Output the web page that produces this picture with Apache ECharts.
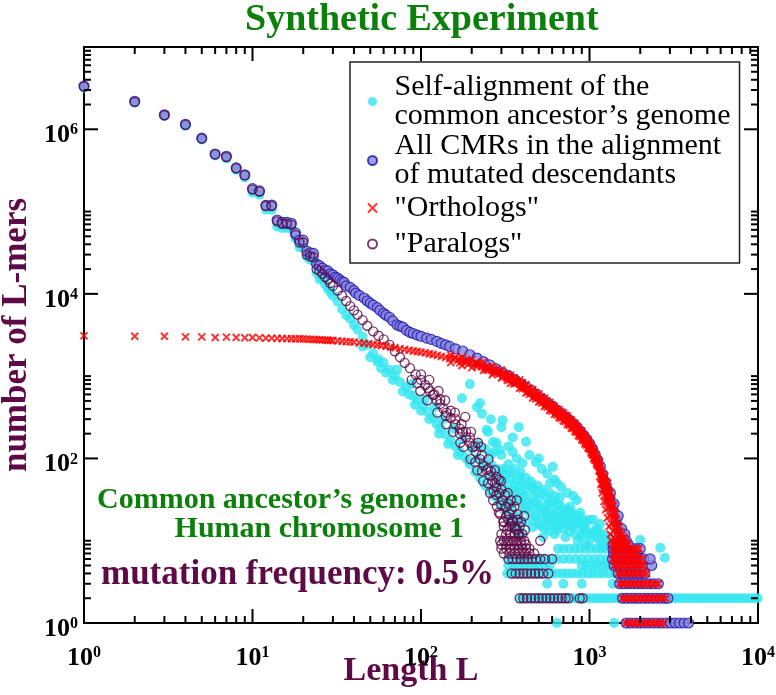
<!DOCTYPE html>
<html>
<head>
<meta charset="utf-8">
<script src="https://cdn.jsdelivr.net/npm/echarts@6/dist/echarts.min.js"></script>
<style>html,body{margin:0;padding:0;background:#fff}#c{width:776px;height:695px}</style>
</head>
<body>
<div id="c"></div>
<script>
// ---------- labels / ticks ----------
const titleText = 'Synthetic Experiment';
const xName = 'Length L';
const yName = 'number of L-mers';
const xLabelExps = [0, 1, 2, 3, 4];
const yLabelExps = [0, 2, 4, 6];
const xMinorMult = [2, 3, 4, 5, 6, 7, 8, 9];
const yMinorMult = [2, 3, 4, 5, 6, 7, 8, 9, 10];
const nameSelf = 'Self-alignment of the\ncommon ancestor\u2019s genome';
const nameCmr = 'All CMRs in the alignment\nof mutated descendants';
const nameOrtho = '"Orthologs"';
const namePara = '"Paralogs"';
const note1 = 'Common ancestor\u2019s genome:';
const note2 = 'Human chromosome 1';
const note3 = 'mutation frequency: 0.5%';

// ---------- data: [length L, number of L-mers] ----------
const selfPts = [
[1,3.2e6],[2,2.1e6],[3,1.45e6],[4,1.1e6],[5,7.5e5],[6,4.8e5],[7,4.4e5],[8,3.2e5],[9,2.6e5],[10,1.7e5],[11,1.6e5],[12,1.05e5],[13,1.05e5],[14,6.6e4],[15,6.3e4],[16,6.3e4],[17,6.2e4],[18,4.7e4],[19,3.7e4],[20,3.7e4],[21,2.8e4],[22,2.6e4],[23,2.5e4],[24,1.8e4],[25,1.5e4],[26,1.55e4],[27,1.3e4],[28,1.15e4],[29,1.05e4],[30,9500],
[32,8000],[34,6500],[36,5500],[38,5000],[40,4200],[42,3700],[45,3000],[48,2400],[52,1900],[56,1600],[60,1450],[65,1200],[70,1000],[75,850],[82,740],[90,580],[95,510],[103,440],[110,370],[118,310],[124,260],[130,235],[140,195],[150,165],[160,140],[170,120],[180,105],[195,85],[210,68],[225,57],[240,47],[256,40],[270,35],[290,29],[310,24],[330,20],[350,16],[370,13],
[45,2300],[50,1700],[55,1500],[58,1250],[62,1100],[68,900],[72,1200],[78,650],[85,600],[88,800],[92,450],[100,380],[105,520],[112,300],[120,420],[128,200],[135,300],[145,150],[155,230],[165,110],[175,170],[190,95],[200,130],[215,100],[230,78],[260,60],[280,45],[300,36],[320,30],[340,25],[360,19],[380,16],
[175,540],[195,800],[215,420],[224,470],[305,292],[250,210],[267,158],[293,127],[245,223],[280,155],[400,88],[386,60],[460,45],[605,79],[582,50],[640,50],[668,34],[840,31],[766,22],[1050,18],[960,13.5],[1155,12.4],[1210,8.4],[2000,10.2],[2630,8.2],[2800,6.2],
[350,29],[425,24],[510,26],[580,29],[668,27],[766,26],[880,22],[1000,18],[1155,16],[700,19.5],[560,18],[460,14.6],[640,13.5],[800,14.6],[910,12.4],[1110,11],[1270,10.2],[530,11],[400,12.4],[330,26],[380,20],[420,17],[480,20],[520,15],[600,15],[720,11],[850,10],[950,9],[430,30],[470,35],[390,38],[360,45],[300,50],[320,40],[410,25],[500,33],[550,22],[620,20],[680,16],[760,13],[1050,12],[1200,9],[1350,8.5],[1450,9],
[290,60],[310,55],[330,48],[350,40],[380,33],[400,28],[440,22],[470,18],[500,16],[540,14],[580,13],[620,12],[360,36],[420,40],[480,28],[540,24],[600,20],[660,18],[720,17],[780,19],[840,16],[900,15],[960,17],
[240,90],[260,85],[280,75],[300,70],[320,65],[340,58],[370,55],[400,50],[430,48],[470,42],[520,38],[560,33],[610,30],[650,28],[700,23],[750,20],[820,18],[870,17],[930,14],[980,12],[1080,13],[1150,10],[1300,9],
[270,120],[300,110],[330,85],[360,75],[390,68],[420,58],[450,52],[490,47],[530,42],[580,38],[620,35],[560,27],[600,24],[640,22],[700,21],[740,24],[790,22],[860,20],[920,18],[1100,14],[1200,12],[1300,11],
[310,75],[340,68],[380,45],[410,35],[450,28],[490,24],[530,20],[570,18],[610,17],[650,15],[700,14],[760,16],[820,12],[880,11],[1000,10],
[220,150],[240,130],[260,110],[330,140],[350,120],[370,100],[440,110],[480,90],[520,75],[560,65],[620,55],[680,45],[740,38],[800,35],[350,180],[300,240],[420,160],[500,100],[260,300],[230,350],[380,240]
];
const selfRowCounts = [1, 2, 3, 4, 5, 6, 8];
const selfRowLengths = [
[640,1400],
[390,410,430,450,480,500,530,560,590,620,650,690,730,770,810,860,910,960,1020,1080,1140,1200,1270,1340,1420,1500,1590,1680,1780,1880,1990,2100,2220,2350,2490,2630,2780,2940,3110,3290,3480,3680,3890,4110,4350,4600,4860,5140,5440,5750,6080,6430,6800,7190,7600,8040,8500,8990,9500,9950],
[560,700,900,1370],
[325,350,375,400,430,460,490,520,560,600,640,690,740,790,850,910,980,1050,1130,1210,1300,1400,1500],
[330,355,380,410,440,470,500,540,580,900,960,1030,1100,1180,1260,1350,1450],
[330,360,390,420,460,500,540,590,640,700,760,830,900,980,1070,1160,1270,1380,1500],
[650,700,760,820,880,950,1020,1100,1170,1240]
];

const cmrPts = [
[1,3.35e6],[2,2.19e6],[3,1.5e6],[4,1.15e6],[5,7.8e5],[6,5.0e5],[7,4.7e5],[8,3.4e5],[9,2.8e5],[10,1.9e5],[11,1.78e5],[12,1.19e5],[13,1.2e5],[14,7.9e4],[15,7.4e4],[16,7.4e4],[17,7.2e4],[18,5.5e4],[19,4.5e4],[20,4.5e4],[21,3.3e4],[22,3.15e4],[23,3.1e4],[24,2.3e4],[25,2.2e4],[26,2.05e4],[27,1.95e4],[28,1.9e4],[29,1.75e4],[30,1.7e4],
[31,1.6e4],[32,1.55e4],[33,1.48e4],[34,1.4e4],[35,1.38e4],[36,1.25e4],[38,1.2e4],[40,1.1e4],[41,1.02e4],[43,9600],[46,8900],[48,8200],[50,7700],[52,7300],[55,6800],[57,6300],[60,5800],[62,5500],[65,5200],[68,4700],[72,4200],[75,4050],[78,3950],[82,3600],[86,3400],[90,3300],[95,3160],[100,3050],[108,2900],[115,2800],[124,2650],[132,2500],[140,2400],[148,2300],[160,2150],[177,2020],[195,1820],[215,1660],[235,1500],[256,1370],[280,1230],[305,1100],
[330,1010],[360,910],[390,820],[420,740],[450,670],[480,605],[510,550],[540,505],[570,465],[600,430],[640,385],[680,350],[720,320],[760,290],[800,265],[840,240],[880,215],[920,192],[960,172],[1000,152],[1040,132],[1080,112],[1120,95],[1160,80],[1200,64],[1240,52],[1280,41],[1320,33],[1360,27],[1400,22],[1440,17],[1480,14],[1520,12],[1560,10.5],[1600,9.5],
[1250,45],[1330,38],[1400,28],[1480,20],[1550,14],[1620,12],[1650,10]
];
const cmrRowCounts = [1, 2, 3, 4, 5, 6, 7, 8, 9];
const cmrRowLengths = [
[1650,1750,1860,1980,2100,2230,2370,2520,2680,2850,3030,3220,3420,3640,3870],
[1570,1660,1760,1860,1970,2090,2210,2340,2480,2630,2790,2920],
[1510,1600,1700,1800,1910,2020,2140,2270,2400,2560],
[1480,1570,1670,1770,1880,2000,2130],
[1400,1500,1600,1700,1810,1930,2060,2340],
[1370,1460,1550,1650,1750,1860,1980,2100,2290],
[1390,1480,1580,1680,1790,1900],
[1380,1470,1570,1670,1780,1890,2000],
[1380,1460,1540,1620,1700]
];

const orthoPts = [
[1,3100],[2,3050],[3,3050],[4,3000],[5,3000],[6,2950],[7,2980],[8,2950],[9,2930],[10,2950],[11,2920],[12,2900],[13,2900],[14,2880],[15,2870],[16,2860],[17,2850],[18,2840],[19,2850],[20,2830],[21,2820],[22,2800],[23,2790],[24,2780],[25,2770],[26,2760],[27,2740],[28,2730],[29,2720],[30,2710],
[32,2680],[34,2650],[36,2630],[38,2610],[40,2590],[43,2550],[46,2510],[49,2470],[52,2430],[55,2400],[58,2360],[62,2310],[66,2260],[70,2210],[75,2160],[80,2110],[85,2060],[90,2020],[95,1990],[100,1960],[106,1920],[112,1870],[118,1830],[125,1790],[132,1740],[140,1690],[148,1640],[156,1600],[165,1560],[175,1510],[185,1470],[195,1440],[205,1410],[215,1370],[228,1310],[240,1260],[252,1220],[265,1170],[280,1110],[295,1070],[310,1020],[325,970],[340,920],[355,880],[370,840],[385,800],[400,760],[420,700],[440,650],[460,610],[480,575],[500,545],[520,510],[540,480],[560,455],[580,430],[600,410],[620,385],[640,365],[660,350],[680,335],[700,320],[720,305],[740,290],[760,275],[780,262],[800,250],[820,238],[840,226],[860,212],[880,200],[900,190],[920,178],[940,168],[960,158],[980,150],[1000,140],[1020,130],[1040,120],[1060,110],[1080,102],[1100,95],[1120,88],[1140,80],[1160,72],[1180,64],[1200,57],[1220,52],[1240,47],[1260,42],[1280,37],[1300,33],[1320,30],[1340,28],[1360,25],[1380,22],[1400,20],[1420,18],[1440,16],[1460,14.5],[1480,13],[1500,12],[1520,11],[1540,10.5],
[150,1820],[175,1690],[200,1600],[235,1480],[265,1310],[300,1190],[340,1030],[385,900],[420,785],[460,685],[500,610],[540,540],[580,480],[620,430],[660,392],[700,358],[740,325],[780,293],[820,266],[860,237],[900,213],[940,188],[980,168],[1020,146],[1060,123],[1100,106],[1140,90],
[150,1460],[175,1345],[200,1270],[235,1180],[265,1040],[300,950],[340,820],[385,712],[420,623],[460,543],[500,485],[540,427],[580,383],[620,343],[660,312],[700,285],[740,258],[780,233],[820,212],[860,189],[900,169],[940,150],[980,134],[1020,116],[1060,98],[1100,85],[1140,71],
[160,1700],[185,1560],[210,1450],[222,1400],[250,1280],[275,1180],[290,1130],[318,1040],[332,990],[348,940],[362,900],[378,850],[392,810],[410,745],[430,690],[450,640],[470,600],[490,560],[510,530],[530,500],[550,470],[570,445],[590,425],[610,400],[630,375],[650,360],[670,343],[690,328],[710,313],[730,298],[750,283],[770,270],[790,257],[810,245],[830,232],[850,220],[870,207],[890,196],[910,185],[930,173],[950,164],[970,154],[990,145],[1010,135],[1030,125],[1050,115],[1070,106],[1090,99],[1110,92],[1130,84],[1150,76],[1170,68],[1190,60],[1210,55],[1230,50],[1250,45],[1270,40],[1290,35],[1310,31],
[325,1060],[355,960],[400,830],[440,710],[480,630],[520,560],[560,500],[600,450],[640,400],[680,367],[720,335],[760,300],[800,272],[840,246],[880,218],[920,195],[960,172],[1000,153],[1040,131],[1080,112],[1120,96],
[325,890],[355,810],[400,700],[440,600],[480,530],[520,470],[560,420],[600,377],[640,336],[680,308],[720,280],[760,253],[800,230],[840,208],[880,184],[920,164],[960,145],[1000,129],[1040,110],[1080,94],[1120,81],
[170,1620],[190,1530],[215,1440],[245,1310],[270,1220],[305,1090],[335,990],[365,900],[395,820],[430,720],[470,630],[510,555],[550,495],[590,445],[630,395],[670,360],[710,330],[750,298],[790,272],[830,245],[870,220],[910,196],[950,174],[990,154],[1030,134],[1070,114],[1110,98],[1150,80],[1190,65],[1230,53],
[170,1450],[190,1380],[215,1300],[245,1190],[270,1100],[305,990],[335,900],[365,820],[395,740],[430,650],[470,570],[510,500],[550,445],[590,400],[630,355],[670,325],[710,297],[750,268],[790,244],[830,220],[870,197],[910,176],[950,156],[990,138],[1030,120],[1070,102],[1110,88],[1150,71],[1190,58],[1230,47],
[1180,50],[1250,52],[1200,42],[1290,45],[1230,36],[1320,38],[1260,30],[1350,32],[1290,25],[1380,27],[1320,20],[1420,22],[1350,16],[1450,18],[1380,13],[1500,15],[1400,11],[1560,12],[1430,10],[1580,10.5],[1600,11],[1620,10],
[1150,60],[1230,62],[1170,48],[1280,50],[1190,38],[1310,40],[1220,30],[1340,33],[1250,24],[1370,26],[1280,19],[1400,21],[1310,15],[1440,16],[1330,12],[1470,13],[1350,10],[1510,10],[1540,9.5],[1600,9],[1650,9.2],[1450,9.3]
];
const orthoRowCounts = [1, 2, 3, 4, 5, 6, 7, 8, 9];
const orthoRowLengths = [
[1650,1720,1790,1870,1950,2030,2120,2210,2310,2410,2520,2630,2750],
[1570,1630,1700,1770,1840,1920,2000,2090,2180,2270,2370,2480,2590,2700,2820],
[1510,1570,1630,1700,1770,1840,1920,2000,2080,2170,2260,2360,2460,2560],
[1480,1530,1590,1650,1710,1780,1850,1920,2000,2090,2180],
[1400,1450,1500,1560,1620,1680,1740,1810,1880,1950,2030,2100],
[1370,1420,1470,1520,1580,1640,1700,1760,1830,1900,1970,2050],
[1390,1450,1510,1570,1640,1710,1780,1860,1940],
[1380,1430,1480,1530,1580,1640,1700,1760,1820,1890,1960],
[1380,1440,1500,1560,1630,1700]
];

const paraPts = [
[1,3.3e6],[2,2.15e6],[3,1.48e6],[4,1.13e6],[5,7.7e5],[6,4.95e5],[7,4.6e5],[8,3.35e5],[9,2.75e5],[10,1.85e5],[11,1.75e5],[12,1.17e5],[13,1.17e5],[14,7.6e4],[15,7.1e4],[16,7.1e4],[17,6.9e4],[18,5.2e4],[19,4.2e4],[20,4.2e4],[21,3.0e4],[22,2.85e4],[23,2.8e4],[24,2.0e4],[25,1.9e4],[26,1.75e4],[27,1.6e4],[28,1.5e4],[29,1.35e4],[30,1.25e4],
[32,1.1e4],[34,9500],[36,8200],[38,7100],[40,6300],[42,5600],[45,4800],[48,4100],[52,3500],[56,3100],[60,2800],[65,2400],[70,2000],[75,1700],[80,1450],[86,1250],[93,1050],[100,900],[106,780],[113,660],[118,590],[124,510],[130,460],[136,400],[142,360],[150,310],[160,260],[170,230],[177,210],[185,180],[195,155],[203,138],[212,120],[224,98],[235,82],[245,72],[256,62],[266,53],[280,45],[292,38],[305,31],[320,26],[335,21],[350,17],[370,13.5],
[95,820],[100,1050],[110,720],[120,600],[130,520],[140,330],[150,380],[160,300],[170,200],[185,210],[195,180],[210,140],[230,110],[250,75],[260,70],[275,50],[290,55],[300,42],[315,36],[330,28],[345,24],[280,36],[300,27],[320,20],[340,16],[360,14],[380,12],[310,17],[290,22],[270,40],[250,50],[230,70],[210,90],
[183,320],[280,60],[410,20],[370,31],[510,10],
[300,12],[320,12],[340,12],[360,12],[380,12],[400,12],[310,15],[335,15],[360,15],[385,15],[330,18],[350,18],[375,18],
[112,900],[127,660],[139,510],[159,360],[174,260],[198,210],[218,155],[227,138],[251,98],[274,72],[298,53],[327,38],[342,31],[358,26],[375,21],[392,17],[414,13.5],
[88,900],[99,660],[109,510],[125,360],[141,260],[155,210],[171,155],[179,138],[197,98],[216,72],[234,53],[257,38],[268,31],[282,26],[295,21],[308,17],[325,13.5]
];
const paraRowCounts = [2, 4, 6, 7, 8, 9, 10];
const paraRowLengths = [
[385,405,425,450,475,500,525,555,585,615,650,685,720,750,875,910],
[345,365,385,405,425,450,475,500,530,570],
[330,350,370,390,410,430,455,480,510,545,600],
[310,335,360,385,410,440,470],
[300,320,340,360,380,400,420,440],
[300,320,345,370,395,420],
[295,310,325,340,355,370,390,410]
];

// ---------- build ----------
function withRows(pts, counts, rows) {
  const out = pts.slice();
  counts.forEach((n, i) => rows[i].forEach(L => out.push([L, n])));
  return out;
}
const X_MIN = 1, X_MAX = 1e4, Y_MIN = 1, Y_MAX = 1e7;
const tickData = [];
xLabelExps.forEach(e => { const v = Math.pow(10, e); tickData.push([v, Y_MIN, 0, -14], [v, Y_MAX, 0, 14]); });
for (let e = 0; e < 4; e++) xMinorMult.forEach(k => { const v = k * Math.pow(10, e); tickData.push([v, Y_MIN, 0, -7], [v, Y_MAX, 0, 7]); });
yLabelExps.forEach(e => { const v = Math.pow(10, e); tickData.push([X_MIN, v, 14, 0], [X_MAX, v, -14, 0]); });
yLabelExps.forEach(e => yMinorMult.forEach(k => { const v = k * Math.pow(10, e); if (v <= Y_MAX) tickData.push([X_MIN, v, 7, 0], [X_MAX, v, -7, 0]); }));

const serif = '"Liberation Serif", "Times New Roman", serif';
const GREEN = '#0b800b', MAROON = '#5e0a46', CYAN = '#33e6f0';
const supRich = {
  b: { fontFamily: serif, fontSize: 26, fontWeight: 'bold', color: '#000', lineHeight: 26, verticalAlign: 'bottom' },
  s: { fontFamily: serif, fontSize: 16, fontWeight: 'bold', color: '#000', lineHeight: 2, verticalAlign: 'top' }
};
function expLabel(list) {
  return function (v) {
    const e = Math.round(Math.log10(v));
    return list.indexOf(e) >= 0 ? '{b|10}{s|' + e + '}' : '';
  };
}

const chart = echarts.init(document.getElementById('c'));
chart.setOption({
  animation: false,
  backgroundColor: '#fff',
  title: {
    text: titleText, left: 245, top: 1, padding: 0,
    textStyle: { fontFamily: serif, fontSize: 38, fontWeight: 'bold', color: GREEN }
  },
  grid: { left: 84, right: 18, top: 47, bottom: 72, outerBoundsMode: 'none', containLabel: false,
          show: true, borderColor: '#000', borderWidth: 2, backgroundColor: 'transparent' },
  xAxis: {
    type: 'log', logBase: 10, min: X_MIN, max: X_MAX,
    axisLine: { show: false }, axisTick: { show: false }, splitLine: { show: false },
    axisLabel: { interval: 0, margin: 22, formatter: expLabel(xLabelExps), rich: supRich },
    name: xName, nameLocation: 'middle', nameGap: 31, nameMoveOverlap: false,
    nameTextStyle: { fontFamily: serif, fontSize: 34, fontWeight: 'bold', color: MAROON, padding: [0, 20, 0, 0] }
  },
  yAxis: {
    type: 'log', logBase: 10, min: Y_MIN, max: Y_MAX,
    axisLine: { show: false }, axisTick: { show: false }, splitLine: { show: false },
    axisLabel: { interval: 0, margin: 6, padding: [12, 0, 0, 0], formatter: expLabel(yLabelExps), rich: supRich },
    name: yName, nameLocation: 'middle', nameRotate: 90, nameGap: 50, nameMoveOverlap: false,
    nameTextStyle: { fontFamily: serif, fontSize: 35, fontWeight: 'bold', color: MAROON }
  },
  legend: {
    orient: 'vertical', left: 350, top: 62, padding: [10, 9, 1, 17],
    itemWidth: 34, itemHeight: 9, itemGap: 0, selectedMode: false,
    borderColor: '#222', borderWidth: 1.5, backgroundColor: '#fff',
    textStyle: { fontFamily: serif, fontSize: 30, color: '#000', lineHeight: 29 },
    data: [
      { name: nameSelf },
      { name: nameCmr },
      { name: nameOrtho, textStyle: { lineHeight: 36 } },
      { name: namePara, textStyle: { lineHeight: 36 } }
    ]
  },
  graphic: [
    { type: 'text', x: 468, y: 500, style: { text: note1, font: 'bold 30px ' + serif, fill: GREEN, textAlign: 'right', align: 'right', textVerticalAlign: 'middle', verticalAlign: 'middle' } },
    { type: 'text', x: 464, y: 529, style: { text: note2, font: 'bold 30px ' + serif, fill: GREEN, textAlign: 'right', align: 'right', textVerticalAlign: 'middle', verticalAlign: 'middle' } },
    { type: 'text', x: 101, y: 575, style: { text: note3, font: 'bold 35px ' + serif, fill: MAROON, textAlign: 'left', align: 'left', textVerticalAlign: 'middle', verticalAlign: 'middle' } }
  ],
  series: [
    { name: nameSelf, type: 'scatter', z: 2, symbol: 'circle', symbolSize: 10,
      itemStyle: { color: CYAN }, emphasis: { disabled: true },
      data: withRows(selfPts, selfRowCounts, selfRowLengths) },
    { name: nameCmr, type: 'scatter', z: 3, symbol: 'circle', symbolSize: 10,
      itemStyle: { color: '#8a84d8', borderColor: '#1a14b4', borderWidth: 1.2 }, emphasis: { disabled: true },
      data: withRows(cmrPts, cmrRowCounts, cmrRowLengths) },
    { name: nameOrtho, type: 'scatter', z: 5, symbol: 'path://M0,0L10,10M10,0L0,10', symbolSize: 7,
      itemStyle: { color: 'rgba(0,0,0,0)', borderColor: '#ff0000', borderWidth: 2 }, emphasis: { disabled: true },
      data: withRows(orthoPts, orthoRowCounts, orthoRowLengths) },
    { name: namePara, type: 'scatter', z: 4, symbol: 'circle', symbolSize: 9,
      itemStyle: { color: 'rgba(0,0,0,0)', borderColor: MAROON, borderWidth: 1.4 }, emphasis: { disabled: true },
      data: withRows(paraPts, paraRowCounts, paraRowLengths) },
    { type: 'custom', z: 10, silent: true, clip: false, tooltip: { show: false },
      renderItem: function (params, api) {
        const c = api.coord([api.value(0), api.value(1)]);
        return { type: 'line', shape: { x1: c[0], y1: c[1], x2: c[0] + api.value(2), y2: c[1] + api.value(3) },
                 style: { stroke: '#000', lineWidth: 2 } };
      },
      data: tickData }
  ]
});
</script>
</body>
</html>
